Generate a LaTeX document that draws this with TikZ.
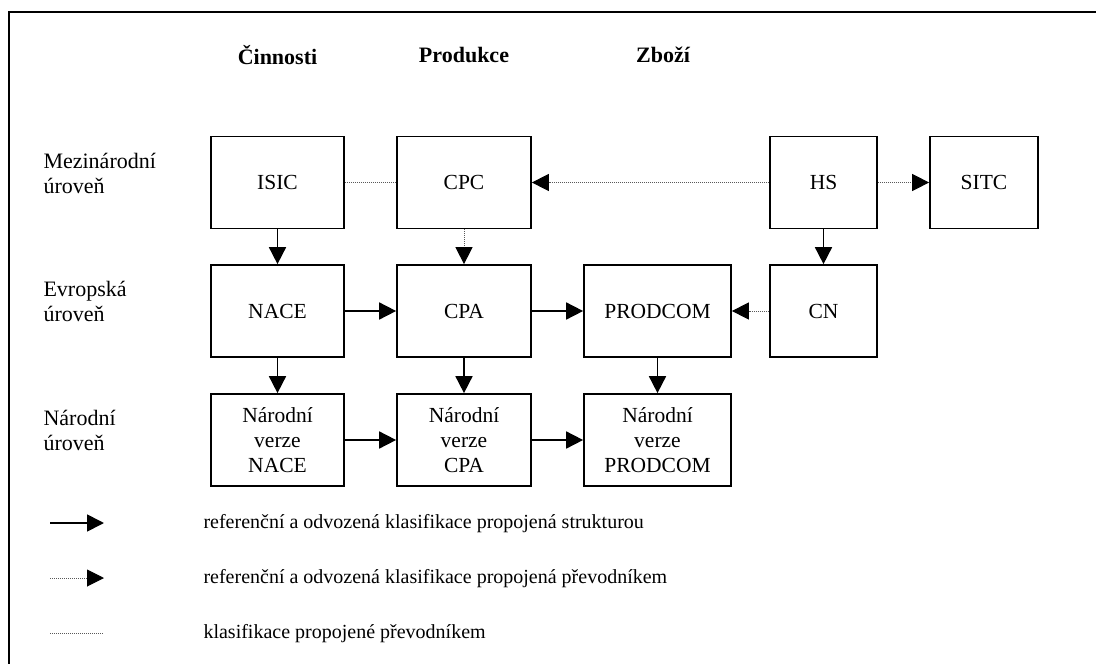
\documentclass[tikz,border=0pt]{standalone}
\usepackage{fontspec}
\setmainfont{Liberation Serif}
\usetikzlibrary{arrows.meta}
\begin{document}
\begin{tikzpicture}[x=1pt,y=-1pt,
  box/.style={draw,line width=1.7pt,inner sep=0pt,align=center,
    font=\fontsize{21.5}{25}\selectfont,minimum height=92pt},
  wide/.style={minimum width=133pt},
  narrow/.style={minimum width=107pt},
  head/.style={font=\fontsize{22}{26}\selectfont\bfseries},
  level/.style={anchor=west,align=left,font=\fontsize{22}{25}\selectfont},
  legendtext/.style={anchor=west,font=\fontsize{20}{24}\selectfont},
  struct/.style={line width=1.7pt,-{Triangle[length=17pt,width=17pt]}},
  conv/.style={line width=1pt,black!65,dash pattern=on 1pt off 1pt},
  convarrow/.style={conv,-{Triangle[length=17pt,width=17pt,fill=black,color=black]}}
]
\useasboundingbox (0,0) rectangle (1096,664);
% frame
\draw[line width=2pt] (9,664) -- (9,12) -- (1096,12);

% column headings
\node[head] (hA) at (277.5,55) {Činnosti};
\node[head] (hB) at (464,55) {Produkce};
\node[head] (hC) at (663,55) {Zboží};

% level labels
\node[level] (lInt) at (40,173) {Mezinárodní\\úroveň};
\node[level] (lEur) at (40,301) {Evropská\\úroveň};
\node[level] (lNat) at (40,430) {Národní\\úroveň};

% international level
\node[box,wide] (isic) at (277.5,182.5) {ISIC};
\node[box,minimum width=134pt] (cpc) at (464,182.5) {CPC};
\node[box,narrow] (hs) at (823.5,182.5) {HS};
\node[box,minimum width=108pt] (sitc) at (984,182.5) {SITC};

% European level
\node[box,wide] (nace) at (277.5,311) {NACE};
\node[box,minimum width=134pt] (cpa) at (464,311) {CPA};
\node[box,minimum width=147pt] (prodcom) at (657.5,311) {PRODCOM};
\node[box,narrow] (cn) at (823.5,311) {CN};

% national level
\node[box,wide] (nnace) at (277.5,440) {Národní\\verze\\NACE};
\node[box,minimum width=134pt] (ncpa) at (464,440) {Národní\\verze\\CPA};
\node[box,minimum width=147pt] (nprodcom) at (657.5,440) {Národní\\verze\\PRODCOM};

% structural links
\draw[struct] (isic) -- (nace);
\draw[struct] (hs) -- (cn);
\draw[struct] (nace) -- (cpa);
\draw[struct] (cpa) -- (prodcom);
\draw[struct] (nace) -- (nnace);
\draw[struct] (cpa) -- (ncpa);
\draw[struct] (prodcom) -- (nprodcom);
\draw[struct] (nnace) -- (ncpa);
\draw[struct] (ncpa) -- (nprodcom);

% correspondence links
\draw[conv] (isic) -- (cpc);
\draw[convarrow] (hs) -- (cpc);
\draw[convarrow] (hs) -- (sitc);
\draw[convarrow] (cpc) -- (cpa);
\draw[convarrow] (cn) -- (prodcom);

% legend
\coordinate (k1a) at (50,523);  \coordinate (k1b) at (104,523);
\coordinate (k2a) at (50,578);  \coordinate (k2b) at (104,578);
\coordinate (k3a) at (50,633);  \coordinate (k3b) at (104,633);
\draw[struct] (k1a) -- (k1b);
\draw[convarrow] (k2a) -- (k2b);
\draw[conv] (k3a) -- (k3b);
\node[legendtext] (t1) at (200,524) {referenční a odvozená klasifikace propojená strukturou};
\node[legendtext] (t2) at (200,579) {referenční a odvozená klasifikace propojená převodníkem};
\node[legendtext] (t3) at (200,634) {klasifikace propojené převodníkem};
\end{tikzpicture}
\end{document}
